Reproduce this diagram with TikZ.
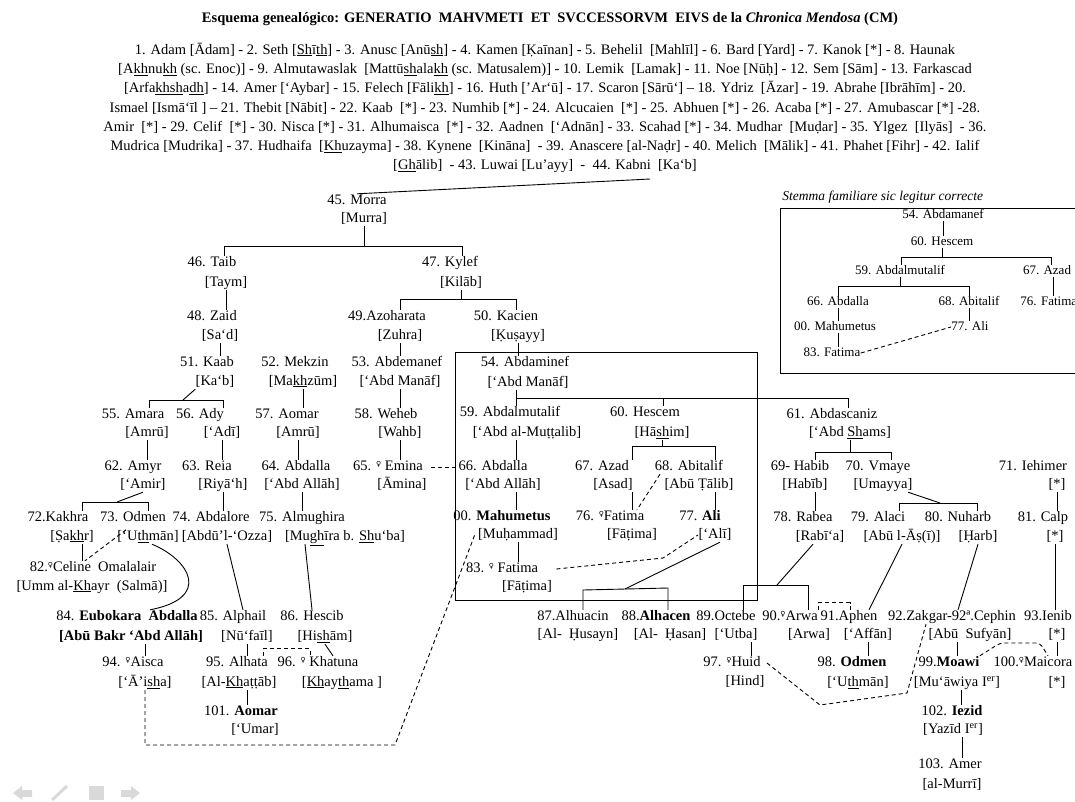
\documentclass[tikz,border=0pt]{standalone}
\usepackage{fontspec}
\setmainfont{Liberation Serif}
\newfontfamily\symfont{DejaVu Sans}
\newcommand{\fem}{\raisebox{0.5ex}{\symfont\fontsize{7}{7}\selectfont ♀}}
\newcommand{\un}[1]{\underline{#1}}

\begin{document}
\begin{tikzpicture}[x=1pt,y=-1pt,line width=0.9pt,
  every node/.style={font=\fontsize{14.5}{17}\selectfont},
  n/.style={inner sep=0pt,text height=10pt,text depth=3.5pt},
  sn/.style={inner sep=0pt,text height=8.5pt,text depth=2.5pt,font=\fontsize{13}{15}\selectfont},
  mar/.style={dash pattern=on 4pt off 3pt},
  nav/.style={fill=black!15,draw=none}]
\useasboundingbox (0,0) rectangle (1075,801);

\node[font=\bfseries\fontsize{14.5}{17}\selectfont] (title) at (550,19) {Esquema genealógico: GENERATIO\ \ MAHVMETI\ \ ET\ \ SVCCESSORVM\ \ EIVS de la \textit{Chronica Mendosa} (CM)};
\node[align=center,font=\fontsize{14.5}{19.3}\selectfont] (gen) at (545,108) {1. Adam [Ādam] - 2. Seth [\un{Sh}ī\un{th}] - 3. Anusc [Anū\un{sh}] - 4. Kamen [Ḳaīnan] - 5. Behelil\ \ [Mahlīl] - 6. Bard [Yard] - 7. Kanok [*] - 8. Haunak\\
{[}A\un{kh}nu\un{kh} (sc. Enoc)] - 9. Almutawaslak\ \ [Mattū\un{sh}ala\un{kh} (sc. Matusalem)] - 10. Lemik\ \ [Lamak] - 11. Noe [Nūḥ] - 12. Sem [Sām] - 13. Farkascad\\
{[}Arfa\un{khsh}a\un{dh}] - 14. Amer [‘Aybar] - 15. Felech [Fāli\un{kh}] - 16. Huth [’Ar‘ū] - 17. Scaron [Sārū‘] – 18. Ydriz\ \ [Āzar] - 19. Abrahe [Ibrāhīm] - 20.\\
Ismael [Ismā‘īl ] – 21. Thebit [Nābit] - 22. Kaab\ \ [*] - 23. Numhib [*] - 24. Alcucaien\ \ [*] - 25. Abhuen [*] - 26. Acaba [*] - 27. Amubascar [*] -28.\\
Amir\ \ [*] - 29. Celif\ \ [*] - 30. Nisca [*] - 31. Alhumaisca\ \ [*] - 32. Aadnen\ \ [‘Adnān] - 33. Scahad [*] - 34. Mudhar\ \ [Muḍar] - 35. Ylgez\ \ [Ilyās]\ \ - 36.\\
Mudrica [Mudrika] - 37. Hudhaifa\ \ [\un{Kh}uzayma] - 38. Kynene\ \ [Kināna]\ \ - 39. Anascere [al-Naḍr] - 40. Melich\ \ [Mālik] - 41. Phahet [Fihr] - 42. Ialif\\
{[}\un{Gh}ālib]\ \ - 43. Luwai [Lu’ayy]\ \ -\ \ 44. Kabni\ \ [Ka‘b]};
\coordinate (kabni) at (650,179);

\node[n] (p45) at (357,201) {45. Morra};        \node[n] (b45) at (364,219) {[Murra]};
\node[n] (p46) at (212,263) {46. Taib};         \node[n] (b46) at (226,283) {[Taym]};
\node[n] (p47) at (450,263) {47. Kylef};        \node[n] (b47) at (461,283) {[Kilāb]};
\node[n] (p48) at (212,317) {48. Zaid};         \node[n] (b48) at (220,336) {[Sa‘d]};
\node[n] (p49) at (387,317) {49.Azoharata};     \node[n] (b49) at (400,336) {[Zuhra]};
\node[n] (p50) at (506,317) {50. Kacien};       \node[n] (b50) at (518,336) {[Ḳuṣayy]};
\node[n] (p51) at (207,363) {51. Kaab};         \node[n] (b51) at (215,382) {[Ka‘b]};
\node[n] (p52) at (295,363) {52. Mekzin};       \node[n] (b52) at (303,382) {[Ma\un{kh}zūm]};
\node[n] (p53) at (397,363) {53. Abdemanef};    \node[n] (b53) at (400,382) {[‘Abd Manāf]};
\node[n] (p54) at (525,363) {54. Abdaminef};    \node[n] (b54) at (528,383) {[‘Abd Manāf]};
\node[n] (p55) at (133,415) {55. Amara};        \node[n] (b55) at (147,433) {[Amrū]};
\node[n] (p56) at (200,415) {56. Ady};          \node[n] (b56) at (222,433) {[‘Adī]};
\node[n] (p57) at (287,415) {57. Aomar};        \node[n] (b57) at (298,433) {[Amrū]};
\node[n] (p58) at (386,415) {58. Weheb};        \node[n] (b58) at (400,433) {[Wahb]};
\node[n] (p59) at (510,413) {59. Abdalmutalif}; \node[n] (b59) at (527,433) {[‘Abd al-Muṭṭalib]};
\node[n] (p60) at (645,413) {60. Hescem};       \node[n] (b60) at (662,433) {[Hā\un{sh}im]};
\node[n] (p61) at (832,415) {61. Abdascaniz};   \node[n] (b61) at (850,433) {[‘Abd \un{Sh}ams]};
\node[n] (p62) at (133,467) {62. Amyr};         \node[n] (b62) at (143,485) {[‘Amir]};
\node[n] (p63) at (207,467) {63. Reia};         \node[n] (b63) at (223,485) {[Riyā‘h]};
\node[n] (p64) at (296,467) {64. Abdalla};      \node[n] (b64) at (302,485) {[‘Abd Allāh]};
\node[n] (p65) at (388,467) {65. \fem\ Emina};  \node[n] (b65) at (402,485) {[Āmina]};
\node[n] (p66) at (493,467) {66. Abdalla};      \node[n] (b66) at (503,485) {[‘Abd Allāh]};
\node[n] (p67) at (602,467) {67. Azad};         \node[n] (b67) at (613,485) {[Asad]};
\node[n] (p68) at (689,467) {68. Abitalif};     \node[n] (b68) at (699,485) {[Abū Ṭālib]};
\node[n] (p69) at (800,467) {69- Habib};        \node[n] (b69) at (805,485) {[Habīb]};
\node[n] (p70) at (878,467) {70. Vmaye};        \node[n] (b70) at (883,485) {[Umayya]};
\node[n] (p71) at (1033,467) {71. Iehimer};     \node[n] (b71) at (1057,485) {[*]};
\node[n] (p72) at (58,518) {72.Kakhra};         \node[n] (b72) at (72,537) {[Ṣa\un{kh}r]};
\node[n] (p73) at (133,518) {73. Odmen};        \node[n] (b73) at (148,537) {[‘U\un{th}mān]};
\node[n] (p74) at (211,518) {74. Abdalore};     \node[n] (b74) at (227,537) {[Abdū’l-‘Ozza]};
\node[n] (p75) at (302,518) {75. Almughira};    \node[n] (b75) at (345,537) {[Mu\un{gh}īra b. \un{Sh}u‘ba]};
\node[n] (p00) at (502,517) {00. \textbf{Mahumetus}}; \node[n] (b00) at (518,535) {[Muḥammad]};
\node[n] (p76) at (610,517) {76. \fem Fatima};  \node[n] (b76) at (632,535) {[Fāṭima]};
\node[n] (p77) at (700,517) {77. \textbf{Ali}}; \node[n] (b77) at (715,535) {[‘Alī]};
\node[n] (p78) at (803,518) {78. Rabea};        \node[n] (b78) at (820,537) {[Rabī‘a]};
\node[n] (p79) at (878,518) {79. Alaci};        \node[n] (b79) at (902,537) {[Abū l-Āṣ(ī)]};
\node[n] (p80) at (958,518) {80. Nuharb};       \node[n] (b80) at (978,537) {[Ḥarb]};
\node[n] (p81) at (1043,518) {81. Calp};        \node[n] (b81) at (1055,537) {[*]};
\node[n] (p82) at (93,568) {82.\fem Celine\ \ Omalalair}; \node[n] (b82) at (92,587) {[Umm al-\un{Kh}ayr\ \ (Salmā)]};
\node[n] (p83) at (502,569) {83. \fem\ Fatima}; \node[n] (b83) at (527,587) {[Fāṭima]};
\node[n] (p84) at (127,617) {84. \textbf{Eubokara\ \ Abdalla}}; \node[n,font=\bfseries\fontsize{14.5}{17}\selectfont] (b84) at (131,637) {[Abū Bakr ‘Abd Allāh]};
\node[n] (p85) at (233,617) {85. Alphail};      \node[n] (b85) at (247,637) {[Nū‘faīl]};
\node[n] (p86) at (312,617) {86. Hescib};       \node[n] (b86) at (325,637) {[Hi\un{sh}ām]};
\node[n] (p87) at (573,617) {87.Alhuacin};      \node[n] (b87) at (578,635) {[Al-\ \ Ḥusayn]};
\node[n] (p88) at (656,617) {88.\textbf{Alhacen}}; \node[n] (b88) at (670,635) {[Al-\ \ Ḥasan]};
\node[n] (p89) at (726,617) {89.Octebe};        \node[n] (b89) at (736,635) {[‘Utba]};
\node[n] (p90) at (790,617) {90.\fem Arwa};     \node[n] (b90) at (809,635) {[Arwa]};
\node[n] (p91) at (849,617) {91.Aphen};         \node[n] (b91) at (868,635) {[‘Affān]};
\node[n] (p92) at (952,617) {92.Zakgar-92ª.Cephin}; \node[n] (b92) at (970,635) {[Abū\ \ Sufyān]};
\node[n] (p93) at (1048,617) {93.Ienib};        \node[n] (b93) at (1057,635) {[*]};
\node[n] (p94) at (133,663) {94. \fem Aisca};   \node[n] (b94) at (145,683) {[‘Ā’i\un{sh}a]};
\node[n] (p95) at (237,663) {95. Alhata};       \node[n] (b95) at (239,683) {[Al-\un{Kh}aṭṭāb]};
\node[n] (p96) at (318,663) {96. \fem\ Khatuna}; \node[n] (b96) at (342,683) {[\un{Kh}ay\un{th}ama\ ]};
\node[n] (p97) at (732,663) {97. \fem Huid};    \node[n] (b97) at (745,682) {[Hind]};
\node[n] (p98) at (852,663) {98. \textbf{Odmen}}; \node[n] (b98) at (858,683) {[‘U\un{th}mān]};
\node[n] (p99) at (949,663) {99.\textbf{Moawi}}; \node[n] (b99) at (957,683) {[Mu‘āwiya I\textsuperscript{er}]};
\node[n] (p100) at (1033,663) {100.\fem Maicora}; \node[n] (b100) at (1057,683) {[*]};
\node[n] (p101) at (241,712) {101. \textbf{Aomar}}; \node[n] (b101) at (255,730) {[‘Umar]};
\node[n] (p102) at (952,712) {102. \textbf{Iezid}}; \node[n] (b102) at (953,730) {[Yazīd I\textsuperscript{er}]};
\node[n] (p103) at (950,765) {103. Amer};       \node[n] (b103) at (952,785) {[al-Murrī]};

\draw (455,352) rectangle (757,600);

\coordinate (f45l) at (224,246); \coordinate (f45r) at (462,246);
\coordinate (f47l) at (400,299); \coordinate (f47r) at (516,299);
\coordinate (f51l) at (149,400); \coordinate (f51r) at (223,400); \coordinate (f51m) at (183,400);
\coordinate (f62l) at (82,502);  \coordinate (f62r) at (148,502); \coordinate (f62m) at (117,502);
\coordinate (f54l) at (516,398); \coordinate (f54r) at (848,398); \coordinate (f54m) at (663,398);
\coordinate (f60l) at (632,446); \coordinate (f60r) at (715,446);
\coordinate (f61l) at (815,452); \coordinate (f61r) at (891,452);
\coordinate (f70l) at (899,503); \coordinate (f70r) at (977,503); \coordinate (f70m) at (940,503);
\coordinate (f77l) at (583,590); \coordinate (f77r) at (668,588); \coordinate (f77m) at (625,589);
\coordinate (f78l) at (743,585); \coordinate (f78r) at (808,585); \coordinate (f78m) at (777,585);

\draw (kabni) -- (p45.north);
\draw (b45.south) -- (b45.south |- f45l);
\draw (f45l |- p46.north) -- (f45l) -- (f45r) -- (f45r |- p47.north);
\draw (b46.south) -- (b46.south |- p48.north);
\draw (b47.south) -- (b47.south |- f47l);
\draw (f47l |- p49.north) -- (f47l) -- (f47r) -- (f47r |- p50.north);
\draw (b48.south) -- (b48.south |- p51.north);
\draw (b49.south) -- (b49.south |- p53.north);
\draw (b50.south) -- (b50.south |- p54.north);
\draw (b51.south west) -- (f51m);
\draw (f51l |- p55.north) -- (f51l) -- (f51r) -- (f51r |- p56.north);
\draw (b52.south) -- (b52.south |- p57.north);
\draw (b53.south) -- (b53.south |- p58.north);
\draw (b55.south) -- (b55.south |- p62.north);
\draw (b56.south) -- (b56.south |- p63.north);
\draw (b57.south) -- (b57.south |- p64.north);
\draw (b58.south) -- (b58.south |- p65.north);
\draw (b62.south) -- (f62m);
\draw (f62l |- p72.north) -- (f62l) -- (f62r) -- (f62r |- p73.north);
\draw (b63.south) -- (b63.south |- p74.north);
\draw (b64.south) -- (b64.south |- p75.north);
\draw (f62l |- b72.south) -- (f62l |- p82.north);
\draw ([xshift=4pt]b73.south) .. controls (190,560) and (212,598) .. ([xshift=23pt]p84.north);
\draw (b74.south) -- ([xshift=10pt]p85.north);
\draw ([xshift=-40pt]b75.south) -- (p86.north);
\draw (b94 |- b84.south) -- (b94 |- p94.north);
\draw (b85.south) -- (b85.south |- p95.north);
\draw (b86.south) -- ([xshift=15pt]p96.north);
\draw (b85 |- b95.south) -- (b85 |- p101.north);
\draw (f54l |- b54.south) -- (f54l |- p59.north);
\draw (f54l) -- (f54r) -- (f54r |- p61.north);
\draw (f54m) -- (f54m |- p60.north);
\draw (f54l |- b59.south) -- (f54l |- p66.north);
\draw (b60.south) -- (b60.south |- f60l);
\draw (f60l |- p67.north) -- (f60l) -- (f60r) -- (f60r |- p68.north);
\draw (f54l |- b66.south) -- (f54l |- p00.north);
\draw (f60l |- b67.south) -- (f60l |- p76.north);
\draw (f60r |- b68.south) -- (f60r |- p77.north);
\draw (b00.south) -- (b00.south |- p83.north);
\draw ([xshift=5pt]b77.south) -- (f77m);
\draw (f77l |- p87.north) -- (f77l) -- (f77r) -- (f77r |- p88.north);
\draw (b61.south) -- (b61.south |- f61l);
\draw (f61l |- p69.north) -- (f61l) -- (f61r) -- (f61r |- p70.north);
\draw (f61l |- b69.south) -- (f61l |- p78.north);
\draw ([xshift=25pt]b70.south) -- (f70m);
\draw (f70l |- p79.north) -- (f70l) -- (f70r) -- (f70r |- p80.north);
\draw (b71.south) -- (b71.south |- p81.north);
\draw ([xshift=-7pt]b78.south) -- (f78m);
\draw (f78l |- p89.north) -- (f78l) -- (f78r) -- (f78r |- p90.north);
\draw (b79.south) -- ([xshift=20pt]p91.north);
\draw (b80.south) -- ([xshift=6pt]p92.north);
\draw (b81.south) -- (b81.south |- p93.north);
\draw ([xshift=15pt]b89.south) -- ([xshift=15pt]b89.south |- p97.north);
\draw (b91.south) -- (b91.south |- p98.north);
\draw (b99 |- b92.south) -- (b99 |- p99.north);
\draw (b93.south) -- (b93.south |- p100.north);
\draw ([xshift=4pt]b99.south) -- ([xshift=4pt]b99.south |- p102.north);
\draw ([xshift=9pt]b102.south) -- ([xshift=9pt]b102.south |- p103.north);

\coordinate (d94) at (395,745);
\coordinate (d83) at (663,558);
\coordinate (d97a) at (820,705); \coordinate (d97b) at (907,693);
\coordinate (d99a) at (1000,643); \coordinate (d99b) at (1040,643);
\draw[mar] ([xshift=8pt]p65.east) -- (p66.west);
\draw[mar] ([xshift=-22pt]b73.north) -- ([xshift=-8pt]p82.north);
\draw[mar] ([xshift=26pt]p95.north) -- ++(0,-7) -| ([xshift=-8pt]p96.north);
\draw[mar] (b94.south) |- (d94) -- ([xshift=-3pt]b00.west);
\draw[mar] ([xshift=-29pt]p68.south) -- ([xshift=27pt]p76.north);
\draw[mar] ([xshift=18pt]p83.east) -- (d83) -- (b77.west);
\draw[mar] (p90.north east) -- ++(0,-7) -| ([xshift=1pt]p91.north);
\draw[mar] ([xshift=6pt]p97.east) -- (d97a) -- (d97b) -- ([xshift=-26pt]p92.south);
\draw[mar,rounded corners=4pt] (p99.north east) -- (d99a) -- (d99b) -- ([xshift=15pt]p100.north);

\node[anchor=west,inner sep=0pt,font=\itshape\fontsize{13.5}{15}\selectfont] (cap) at (782,197) {Stemma familiare sic legitur correcte};
\draw (780,208) rectangle (1085,373);
\node[sn] (s54) at (943,215) {54. Abdamanef};
\node[sn] (s60) at (942,242) {60. Hescem};
\node[sn] (s59) at (900,271) {59. Abdalmutalif};
\node[sn] (s67) at (1047,271) {67. Azad};
\node[sn] (s66) at (838,302) {66. Abdalla};
\node[sn] (s68) at (969,302) {68. Abitalif};
\node[sn,anchor=west] (s76) at (1020,302) {76. Fatima};
\node[sn] (s00) at (835,327) {00. Mahumetus};
\node[sn] (s77) at (970,327) {77. Ali};
\node[sn] (s83) at (832,353) {83. Fatima};
\coordinate (g60l) at (901,257); \coordinate (g60r) at (1051,257);
\coordinate (g59l) at (838,286); \coordinate (g59r) at (969,286);
\draw (s54.south) -- (s54.south |- s60.north);
\draw (s60.south) -- (s60.south |- g60l);
\draw (g60l |- s59.north) -- (g60l) -- (g60r) -- (g60r |- s67.north);
\draw (s59.south) -- (s59.south |- g59l);
\draw (g59l |- s66.north) -- (g59l) -- (g59r) -- (g59r |- s68.north);
\draw ([xshift=6pt]s67.south) -- ([xshift=6pt]s67.south |- s76.north);
\draw (s66.south) -- (s66.south |- s00.north);
\draw (s68.south) -- (s68.south |- s77.north);
\draw (s66.south |- s00.south) -- (s66.south |- s83.north);
\draw[mar] (s83.east) -- (s77.west);

\fill[nav] (13,793) -- (22,786) -- (22,790) -- (32,790) -- (32,797) -- (22,797) -- (22,800) -- cycle;
\draw[black!15,line width=3pt] (52,800) -- (67,786);
\fill[nav] (89,786) rectangle (104,800);
\fill[nav] (140,793) -- (131,786) -- (131,790) -- (121,790) -- (121,797) -- (131,797) -- (131,800) -- cycle;
\end{tikzpicture}
\end{document}
